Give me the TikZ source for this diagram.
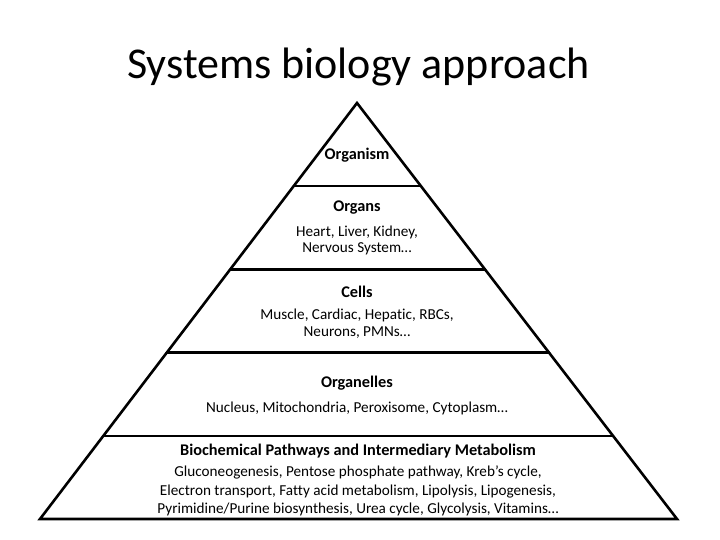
\documentclass[tikz,border=0pt]{standalone}
\usepackage{fontspec}
\setmainfont[Ligatures=NoCommon]{Carlito}
\usetikzlibrary{calc,positioning}
\tikzset{
  edge/.style={line width=2.6pt, line cap=round, line join=miter},
  head/.style={font=\fontsize{16.3}{18}\selectfont\bfseries, inner sep=0pt},
  desc/.style={font=\fontsize{15.2}{16.5}\selectfont, align=center, inner sep=0pt},
  wide/.style={font=\fontsize{15.2}{18.5}\selectfont, align=center, inner sep=0pt}
}
\begin{document}
\begin{tikzpicture}[x=1pt,y=-1pt]
  \useasboundingbox (0,0) rectangle (720,540);
  % title
  \node[font=\fontsize{44}{50}\selectfont, anchor=base] (title) at (358.5,79) {Systems biology approach};
  % pyramid
  \coordinate (T) at (357,103);
  \coordinate (L) at (40,519);
  \coordinate (R) at (677,519);
  \draw[edge] (T)--(L)--(R)--cycle;
  \foreach \f in {0.2,0.4,0.6,0.8}
    \draw[edge] ($(T)!\f!(L)$) -- ($(T)!\f!(R)$);
  % levels
  \node[head] (organism) at (357,155) {Organism};
  \node[head] (organs) at (357,208) {Organs};
  \node[desc] (organsd) at (357,240.5) {Heart, Liver, Kidney,\\Nervous System…};
  \node[head] (cells) at (357,292) {Cells};
  \node[desc] (cellsd) at (357,323.5) {Muscle, Cardiac, Hepatic, RBCs,\\Neurons, PMNs…};
  \node[head] (organelles) at (357,383) {Organelles};
  \node[desc] (organellesd) at (357,408) {Nucleus, Mitochondria, Peroxisome, Cytoplasm…};
  \node[head] (biochem) at (358,451) {Biochemical Pathways and Intermediary Metabolism};
  \node[wide] (biochemd) at (358,491) {Gluconeogenesis, Pentose phosphate pathway, Kreb’s cycle,\\Electron transport, Fatty acid metabolism, Lipolysis, Lipogenesis,\\Pyrimidine/Purine biosynthesis, Urea cycle, Glycolysis, Vitamins…};
\end{tikzpicture}
\end{document}
